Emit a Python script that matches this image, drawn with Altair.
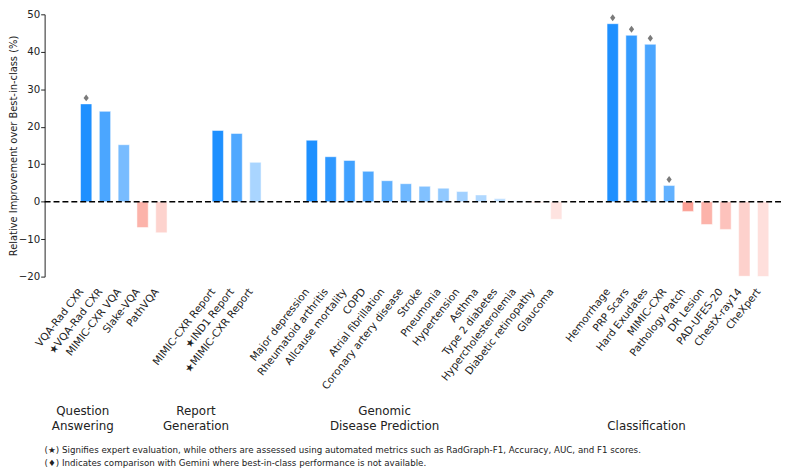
import json
import altair as alt
import pandas as pd

# ---------------- data ----------------
group_names = ["Question\nAnswering", "Report\nGeneration", "Genomic\nDisease Prediction", "\nClassification"]

qa_labels = ["VQA-Rad CXR", "★VQA-Rad CXR", "MIMIC-CXR VQA", "Slake-VQA", "PathVQA"]
qa_values = [26.1, 24.1, 15.2, -6.9, -8.3]
qa_gemini = [True, False, False, False, False]

rg_labels = ["MIMIC-CXR Report", "★IND1 Report", "★MIMIC-CXR Report"]
rg_values = [19.0, 18.2, 10.5]
rg_gemini = [False, False, False]

gd_labels = ["Major depression", "Rheumatoid arthritis", "Allcause mortality", "COPD",
             "Atrial fibrillation", "Coronary artery disease", "Stroke", "Pneumonia",
             "Hypertension", "Asthma", "Type 2 diabetes", "Hypercholesterolemia",
             "Diabetic retinopathy", "Glaucoma"]
gd_values = [16.4, 12.0, 11.0, 8.1, 5.6, 4.8, 4.1, 3.6, 2.7, 1.8, 0.85, 0.25, -0.3, -4.7]
gd_gemini = [False] * 14

cl_labels = ["Hemorrhage", "PRP Scars", "Hard Exudates", "MIMIC-CXR", "Pathology Patch",
             "DR Lesion", "PAD-UFES-20", "ChestX-ray14", "CheXpert"]
cl_values = [47.5, 44.4, 42.0, 4.3, -2.6, -6.1, -7.4, -19.9, -20.0]
cl_gemini = [True, True, True, True, False, False, False, False, False]

footnotes = [
    "(★) Signifies expert evaluation, while others are assessed using automated metrics such as RadGraph-F1, Accuracy, AUC, and F1 scores.",
    "(♦) Indicates comparison with Gemini where best-in-class performance is not available.",
]

# ---------------- styles ----------------
qa_alpha = [1.0, 0.8, 0.6, 0.6, 0.35]
rg_alpha = [1.0, 0.78, 0.38]
gd_alpha = [1.0, 0.93, 0.85, 0.78, 0.71, 0.64, 0.56, 0.49, 0.42, 0.35, 0.27, 0.2, 0.3, 0.22]
cl_alpha = [1.0, 0.9, 0.8, 0.7, 0.75, 0.6, 0.48, 0.36, 0.25]
group_label_x = [-0.18, 5.84, 15.87, 29.8]   # label anchor in slot units
GAP = 2
BLUE = "#1E90FF"
SALMON = "#FA8072"
FONT = "DejaVu Sans"
INK = "#222"

groups = [
    (qa_labels, qa_values, qa_gemini, qa_alpha),
    (rg_labels, rg_values, rg_gemini, rg_alpha),
    (gd_labels, gd_values, gd_gemini, gd_alpha),
    (cl_labels, cl_values, cl_gemini, cl_alpha),
]

rows = []
slot = 0
for labels, values, gem, alpha in groups:
    for lab, val, g, a in zip(labels, values, gem, alpha):
        rows.append({"idx": slot, "label": lab, "value": val, "gemini": g,
                     "alpha": a, "sign": "pos" if val >= 0 else "neg"})
        slot += 1
    slot += GAP
n_slots = slot - GAP
df = pd.DataFrame(rows)
df["x0"] = df["idx"] - 0.3
df["x1"] = df["idx"] + 0.3
df["my"] = df["value"] + 1.6

slot_labels = [""] * n_slots
for r in rows:
    slot_labels[r["idx"]] = r["label"]
label_expr = json.dumps(slot_labels, ensure_ascii=False) + "[datum.value]"

xscale = alt.Scale(domain=[-2.21, 36.95], nice=False, zero=False)
yscale = alt.Scale(domain=[-20, 50], nice=False, zero=False)
YTITLE = "Relative Improvement over Best-in-class (%)"

xaxis = alt.Axis(values=df["idx"].tolist(), labelExpr=label_expr, labelAngle=308,
                 labelAlign="right", labelBaseline="middle", domain=False, ticks=False,
                 grid=False, labelPadding=13, labelOffset=-5, labelOverlap=False,
                 labelFlush=False, labelFontSize=10.5, labelColor=INK, labelFont=FONT)
yaxis = alt.Axis(values=list(range(-20, 51, 10)),
                 tickSize=4, tickColor=INK, domainColor=INK, grid=False,
                 labelFontSize=10.3, labelColor=INK, labelPadding=1,
                 titleFontSize=10, titleFontWeight="normal", titleColor=INK,
                 titlePadding=0, labelFont=FONT, titleFont=FONT)


def X(field):
    return alt.X(field, scale=xscale, title=None, axis=xaxis)


def Y(field):
    return alt.Y(field, scale=yscale, title=YTITLE, axis=yaxis)


bars = alt.Chart(df).mark_bar(stroke="white", strokeWidth=1, strokeOpacity=0.5, clip=True).encode(
    x=X("x0:Q"),
    x2="x1:Q",
    y=Y("value:Q"),
    y2=alt.datum(0),
    fill=alt.Fill("sign:N", scale=alt.Scale(domain=["pos", "neg"], range=[BLUE, SALMON]), legend=None),
    fillOpacity=alt.FillOpacity("alpha:Q", scale=None),
)

zero = alt.Chart(pd.DataFrame({"v": [0]})).mark_rule(
    color="black", strokeDash=[6, 3], strokeWidth=1.5
).encode(y=Y("v:Q"))

diamonds = alt.Chart(df[df["gemini"]]).mark_point(
    shape="M0,-1L0.75,0L0,1L-0.75,0Z", filled=True, color="#7a7a7a", size=49, opacity=1
).encode(x=X("idx:Q"), y=Y("my:Q"))

gdf = pd.DataFrame({"gx": group_label_x, "name": group_names})
glabels = alt.Chart(gdf).mark_text(
    align="center", baseline="bottom", fontSize=12, lineBreak="\n", lineHeight=15,
    color=INK, font=FONT
).encode(x=X("gx:Q"), y=alt.value(408), text="name:N")

ndf = pd.DataFrame({"t": ["\n".join(footnotes)]})
notes = alt.Chart(ndf).mark_text(
    align="left", baseline="top", fontSize=8.8, lineBreak="\n", lineHeight=13,
    color=INK, font=FONT
).encode(x=alt.value(0), y=alt.value(436), text="t:N")

chart = alt.layer(bars, zero, diamonds, glabels, notes).properties(
    width=744, height=265,
    autosize=alt.AutoSizeParams(type="none"),
    padding={"left": 37, "top": 4, "right": 0, "bottom": 193},
).configure(font=FONT).configure_view(stroke=None)

chart.save("out.html", embed_options={"renderer": "svg", "actions": False})
